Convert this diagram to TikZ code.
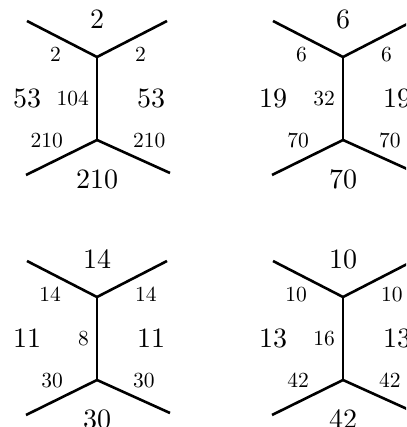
\documentclass[tikz,border=0pt]{standalone}
\font\facefont=cmr10 at 28pt
\font\edgefont=cmr10 at 21.5pt
\tikzset{
  edge/.style={line width=2.6pt},
  facelab/.style={font=\facefont, inner sep=0pt},
  edgelab/.style={font=\edgefont, inner sep=0pt},
}
\begin{document}
\begin{tikzpicture}[x=1pt,y=-1pt]
\useasboundingbox (0,0) rectangle (406,427);
\clip (0,0) rectangle (406,427);
\foreach \id/\dx/\dy/\a/\b/\m/\c in {A/0/0/2/53/104/210, B/246/0/6/19/32/70, C/0/240/14/11/8/30, D/246/240/10/13/16/42}{
  \begin{scope}[shift={(\dx,\dy)}]
    \coordinate (u\id) at (97,57);
    \coordinate (l\id) at (97,140);
    \coordinate (ul\id) at (27,21);
    \coordinate (ur\id) at (167,21);
    \coordinate (ll\id) at (26,175);
    \coordinate (lr\id) at (170,173);
    \draw[edge] (ul\id) -- (u\id) -- (ur\id);
    \draw[edge] (u\id) -- (l\id);
    \draw[edge] (ll\id) -- (l\id) -- (lr\id);
    \node[facelab] (top\id) at (97,19.5) {\a};
    \node[facelab] (bot\id) at (97,179) {\c};
    \node[facelab] (left\id) at (27,98.5) {\b};
    \node[facelab] (right\id) at (151,98.5) {\b};
    \node[edgelab, anchor=north east] (eul\id) at (61,47) {\a};
    \node[edgelab, anchor=north west] (eur\id) at (135,47) {\a};
    \node[edgelab, anchor=east] (emid\id) at (89,98.5) {\m};
    \node[edgelab, anchor=south east] (ell\id) at (63,148) {\c};
    \node[edgelab, anchor=south west] (elr\id) at (133,148) {\c};
  \end{scope}
}
\end{tikzpicture}
\end{document}
